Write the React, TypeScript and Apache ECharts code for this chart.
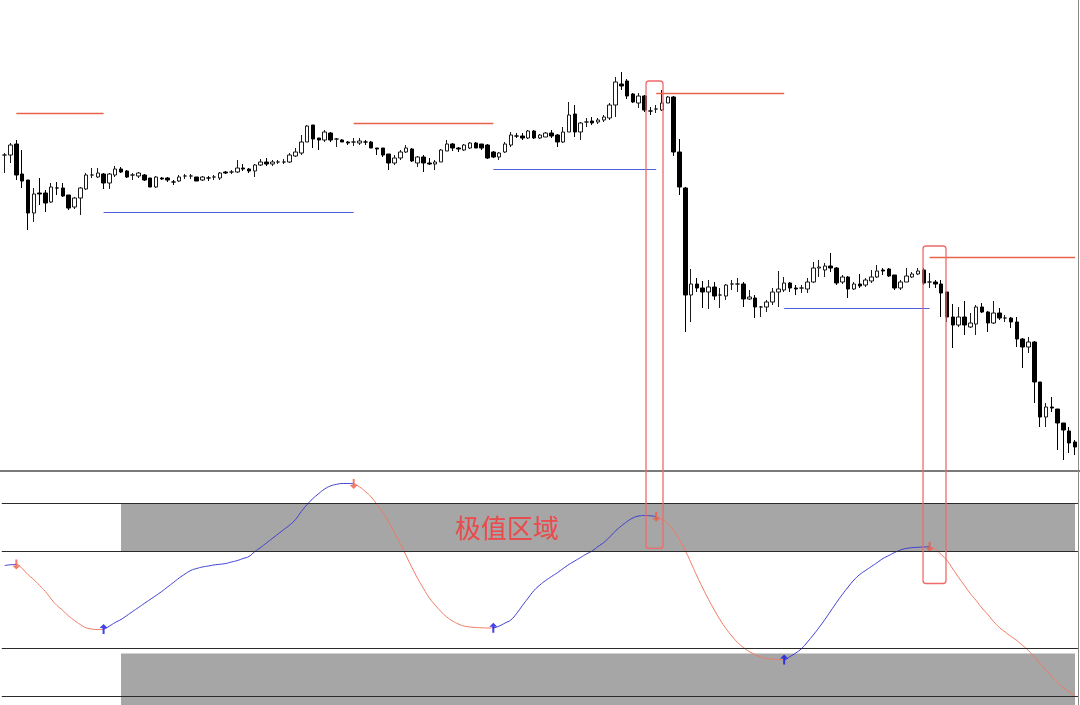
import React, { useEffect, useRef } from "react";
import * as echarts from "echarts";

// Each candle: [open, close, low, high] in price points
const candles: number[][] = [
  [315,315,297,317],[315,325,307,327],[326,295,290,330],[296,289,282,320],
  [290,257,240,290],[257,276,248,282],[277,276,265,292],[277,267,258,280],[268,283,267,287],
  [282,282,275,288],[282,274,273,287],[275,262,260,275],[263,272,261,273],[272,282,255,283],
  [281,295,280,297],[295,295,292,302],[293,297,292,302],[296,287,281,297],[287,296,281,297],
  [295,301,293,304],[301,298,297,303],[299,293,292,300],[295,295,290,297],[294,297,292,298],
  [295,290,289,296],[292,283,283,292],[283,293,282,294],[292,291,290,293],[292,290,288,293],
  [288,288,285,290],[289,293,288,295],[294,294,291,296],[294,294,291,296],[293,289,289,293],
  [290,293,289,294],[292,292,289,294],[293,293,290,295],[292,297,290,298],[298,297,296,299],
  [298,298,296,300],[298,302,297,310],[302,301,299,306],[301,299,297,302],[299,305,293,306],
  [305,308,304,311],[308,306,304,312],[306,308,304,310],[308,308,306,310],[308,308,306,311],
  [308,315,307,317],[314,318,313,322],[317,328,315,335],[328,344,328,345],[345,331,322,345],
  [332,330,320,332],[330,338,328,340],[337,330,328,338],[331,331,323,332],[330,328,328,331],
  [328,327,325,329],[328,328,324,332],[327,329,325,332],[328,328,325,330],[328,322,322,329],
  [322,321,315,322],[322,315,313,322],[316,307,300,316],[307,312,305,315],[312,318,310,320],
  [318,322,317,325],[321,309,308,322],[307,313,303,314],[313,307,298,315],[307,306,305,312],
  [306,308,300,310],[308,320,308,321],[319,326,319,330],[326,322,319,327],[322,321,318,323],
  [320,325,319,326],[322,327,321,328],[327,322,322,328],[326,322,320,326],[325,312,311,326],
  [318,313,312,319],[313,317,310,318],[318,326,317,328],[325,335,323,338],[334,334,332,337],
  [334,332,330,337],[332,339,331,340],[339,332,331,340],[332,335,331,336],[333,337,333,338],
  [337,334,332,340],[335,328,323,336],[328,338,327,343],[338,355,338,368],[356,338,333,365],
  [338,347,330,348],[348,348,343,352],[349,347,345,353],[348,350,346,352],[350,353,348,355],
  [352,365,350,367],[365,388,353,393],[386,384,380,398],[389,374,371,391],[376,368,367,377],
  [367,374,362,377],[374,360,358,375],[359,359,355,363],[361,361,357,365],[360,367,359,380],
  [367,373,367,374],[373,318,314,374],[318,283,275,331],[282,175,138,283],[175,186,148,201],
  [186,182,178,192],[182,178,162,189],[178,183,161,190],[183,174,170,188],[175,175,162,182],
  [174,185,170,186],[186,186,180,190],[186,186,178,192],[186,171,163,188],[171,173,170,180],
  [172,163,152,175],[163,163,153,164],[163,168,158,170],[168,178,165,182],[178,181,163,199],
  [180,187,178,193],[187,182,178,188],[182,181,175,185],[182,182,177,185],[181,188,177,192],
  [188,202,187,208],[202,203,193,210],[200,204,193,207],[204,202,198,217],[202,187,185,203],
  [188,193,186,195],[193,181,172,194],[181,186,180,188],[186,184,182,196],[185,190,183,192],
  [189,193,187,200],[193,199,192,205],[200,199,195,202],[201,194,193,202],[195,182,180,195],
  [182,188,180,190],[188,194,188,202],[193,196,192,198],[196,199,195,202],[200,187,185,202],
  [188,188,182,197],[188,186,182,190],[186,177,153,190],[178,153,148,178],[153,145,122,166],
  [145,153,143,163],[153,145,135,169],[143,147,142,157],[146,163,135,165],[163,158,157,167],
  [158,147,138,159],[147,157,146,169],[157,152,150,162],[152,152,148,155],[152,148,142,153],
  [148,131,123,153],[131,123,102,132],[123,128,117,133],[128,88,67,129],[88,53,43,88],
  [53,63,43,67],[63,62,58,73],[61,47,20,61],[47,40,10,47],[39,27,17,43],[28,23,15,30],
];

// Oscillator value per bar
const oscillator: number[] = [
  35.2,36.0,36.3,32.1,25.9,20.7,14.5,8.3,0.5,
  -6.2,-11.4,-17.1,-21.8,-25.9,-29.3,-30.6,-31.1,-30.6,-27.5,
  -23.8,-20.7,-16.6,-12.4,-8.3,-4.1,0,4.1,8.3,13.0,
  17.6,22.3,26.4,30.1,32.1,33.7,34.7,35.8,36.5,37.3,
  38.9,40.4,42.5,44.6,49.7,53.9,58.6,63.2,67.9,72.5,
  77.2,82.9,91.2,98.4,104.7,109.8,114.5,117.6,119.2,120.2,
  120.2,119.7,116.6,111.9,106.2,98.4,90.2,80.3,69.4,58.0,
  45.6,33.2,21.8,11.4,1.6,-5.7,-12.4,-18.1,-22.3,-25.4,
  -27.5,-28.5,-29.0,-29.3,-29.5,-29.3,-27.5,-24.4,-21.2,-14.5,
  -6.2,1.6,9.3,15.0,19.7,23.8,27.7,32.1,36.3,39.9,
  43.5,47.2,50.3,54.9,59.1,64.8,71.0,76.2,80.8,84.5,
  86.5,87.0,86.7,85.7,82.9,78.2,71.5,62.2,50.8,37.8,
  24.4,11.9,0,-10.9,-21.2,-30.1,-37.8,-44.6,-49.7,-53.9,
  -57.0,-59.6,-61.1,-61.7,-62.2,-62.2,-59.1,-55.4,-50.8,-44.0,
  -36.8,-29.0,-20.7,-11.9,-3.1,5.2,13.0,20.2,25.9,30.1,
  34.2,38.3,42.5,45.6,48.7,51.3,52.9,53.7,54.1,54.4,
  54.6,51.8,46.6,40.4,31.6,22.8,14.5,6.2,-1.0,-8.8,
  -15.5,-22.8,-29.0,-33.7,-38.3,-42.5,-47.7,-52.9,-59.6,-66.3,
  -73.1,-79.8,-86.0,-91.2,-95.9,-99.5,
];

const peakBars = [2, 60, 112, 159];
const troughBars = [17, 84, 134];

const resistanceLevels = [357, 347, 377, 213];
const resistanceStart = [2, 60, 112, 159];
const resistanceEnd = [17, 84, 134, 184];
const supportLevels = [258, 301, 162];
const supportStart = [17, 84, 134];
const supportEnd = [60, 112, 159];

const oscLevels = [100, 50, -50, -100];
const upperBand = [100, 50];
const lowerBand = [-56, -109.3];
const bandStartBar = 20;

const zoneBars = [[110.25, 113.17], [157.87, 161.82]];
const zoneTopPrice = [389, 224];
const zoneBottomOsc = [52.9, 16.6];
const zoneLabel = "极值区域";
const zoneLabelBar = 77.4;
const zoneLabelOsc = 75.6;

const categories = candles.map((_, i) => "K" + (i + 1));

const UP = "#3c3cd2";
const DOWN = "#f07860";
const RED_LINE = "#e8634c";
const BLUE_LINE = "#4f60dc";

export default function App() {
  const ref = useRef<HTMLDivElement>(null);
  useEffect(() => {
    if (!ref.current) return;
    const chart = echarts.init(ref.current, null, { renderer: "svg" });
    const N = candles.length;

    const turns = [
      ...peakBars.map((i) => ({ i, peak: true })),
      ...troughBars.map((i) => ({ i, peak: false })),
    ].sort((a, b) => a.i - b.i);
    const pieces: any[] = [{ lte: turns[0].i, color: turns[0].peak ? UP : DOWN }];
    turns.forEach((t, k) => {
      const p: any = { gt: t.i, color: t.peak ? DOWN : UP };
      if (k + 1 < turns.length) p.lte = turns[k + 1].i;
      pieces.push(p);
    });

    const levelLines: any[] = [];
    resistanceLevels.forEach((v, k) =>
      levelLines.push([
        { coord: [resistanceStart[k], v], lineStyle: { color: RED_LINE, width: 1.3 } },
        { coord: [resistanceEnd[k], v] },
      ])
    );
    supportLevels.forEach((v, k) =>
      levelLines.push([
        { coord: [supportStart[k], v], lineStyle: { color: BLUE_LINE } },
        { coord: [supportEnd[k], v] },
      ])
    );

    const gridLeft = 1.79;
    const gridRight = 2.07;

    chart.setOption({
      animation: false,
      backgroundColor: "#ffffff",
      grid: [
        { left: gridLeft, right: gridRight, top: 0, height: 470 },
        { left: gridLeft, right: gridRight, top: 472, height: 233 },
      ],
      xAxis: [
        { type: "category", gridIndex: 0, data: categories, show: false },
        { type: "category", gridIndex: 1, data: categories, show: false },
      ],
      yAxis: [
        { type: "value", gridIndex: 0, min: 0, max: 470, show: false, splitLine: { show: false } },
        { type: "value", gridIndex: 1, min: -109.3, max: 132.1, show: false, splitLine: { show: false } },
      ],
      visualMap: {
        type: "piecewise",
        show: false,
        seriesIndex: 2,
        dimension: 0,
        pieces,
      },
      series: [
        {
          type: "candlestick",
          xAxisIndex: 0,
          yAxisIndex: 0,
          data: candles,
          barWidth: 4,
          itemStyle: {
            color: "#ffffff",
            color0: "#000000",
            borderColor: "#1a1a1a",
            borderColor0: "#000000",
            borderWidth: 1,
          },
          markLine: {
            silent: true,
            symbol: ["none", "none"],
            label: { show: false },
            lineStyle: { type: "solid", width: 1.2, opacity: 1 },
            data: levelLines,
          },
        },
        {
          type: "line",
          xAxisIndex: 1,
          yAxisIndex: 1,
          data: [],
          z: 1,
          markArea: {
            silent: true,
            itemStyle: { color: "#a6a6a6", opacity: 1 },
            data: [
              [{ coord: [bandStartBar, upperBand[0]] }, { coord: [N - 1, upperBand[1]] }],
              [{ coord: [bandStartBar, lowerBand[0]] }, { coord: [N - 1, lowerBand[1]] }],
            ],
          },
        },
        {
          type: "line",
          xAxisIndex: 1,
          yAxisIndex: 1,
          data: oscillator,
          smooth: true,
          symbol: "none",
          z: 3,
          lineStyle: { width: 1 },
          markLine: {
            silent: true,
            symbol: ["none", "none"],
            label: { show: false },
            lineStyle: { color: "#2a2a2a", type: "solid", width: 1 },
            data: oscLevels.map((v) => ({ yAxis: v })),
          },
        },
        {
          type: "scatter",
          xAxisIndex: 1,
          yAxisIndex: 1,
          z: 4,
          data: peakBars.map((i) => [i, oscillator[i]]),
          symbol: "path://M3,0H5V6H8L4,10L0,6H3Z",
          symbolSize: [8, 10],
          itemStyle: { color: "#f05a48" },
        },
        {
          type: "scatter",
          xAxisIndex: 1,
          yAxisIndex: 1,
          z: 4,
          data: troughBars.map((i) => [i, oscillator[i]]),
          symbol: "path://M4,0L8,4H5V10H3V4H0Z",
          symbolSize: [8, 10],
          itemStyle: { color: "#1414e6" },
        },
      ],
    });

    const px0 = chart.convertToPixel({ xAxisIndex: 0 }, 0) as unknown as number;
    const px1 = chart.convertToPixel({ xAxisIndex: 0 }, 1) as unknown as number;
    const xAt = (b: number) => px0 + b * (px1 - px0);
    const yPrice = (v: number) => chart.convertToPixel({ yAxisIndex: 0 }, v) as unknown as number;
    const yOsc = (v: number) => chart.convertToPixel({ yAxisIndex: 1 }, v) as unknown as number;

    const elements: any[] = [
      {
        type: "line",
        shape: { x1: 0, y1: 471, x2: 1080, y2: 471 },
        style: { stroke: "#7a7a7a", lineWidth: 2 },
        z: 10,
      },
      {
        type: "line",
        shape: { x1: 1078.5, y1: 0, x2: 1078.5, y2: 705 },
        style: { stroke: "#8a8a8a", lineWidth: 1 },
        z: 10,
      },
    ];
    zoneBars.forEach((zb, k) => {
      const x1 = xAt(zb[0]);
      const x2 = xAt(zb[1]);
      const y1 = yPrice(zoneTopPrice[k]);
      const y2 = yOsc(zoneBottomOsc[k]);
      elements.push({
        type: "rect",
        shape: { x: x1, y: y1, width: x2 - x1, height: y2 - y1, r: 3 },
        style: { fill: "none", stroke: "#ef6a6a", lineWidth: 1.3 },
        z: 20,
      });
    });
    elements.push({
      type: "text",
      x: xAt(zoneLabelBar),
      y: yOsc(zoneLabelOsc),
      z: 20,
      style: {
        text: zoneLabel,
        fill: "#e84c4c",
        fontSize: 26,
        fontFamily: "Noto Sans CJK SC",
        align: "left",
        verticalAlign: "middle",
      },
    });
    chart.setOption({ graphic: { elements } });

    return () => chart.dispose();
  }, []);

  return (
    <div
      ref={ref}
      style={{ position: "fixed", left: 0, top: 0, width: 1080, height: 705, background: "#ffffff" }}
    />
  );
}
